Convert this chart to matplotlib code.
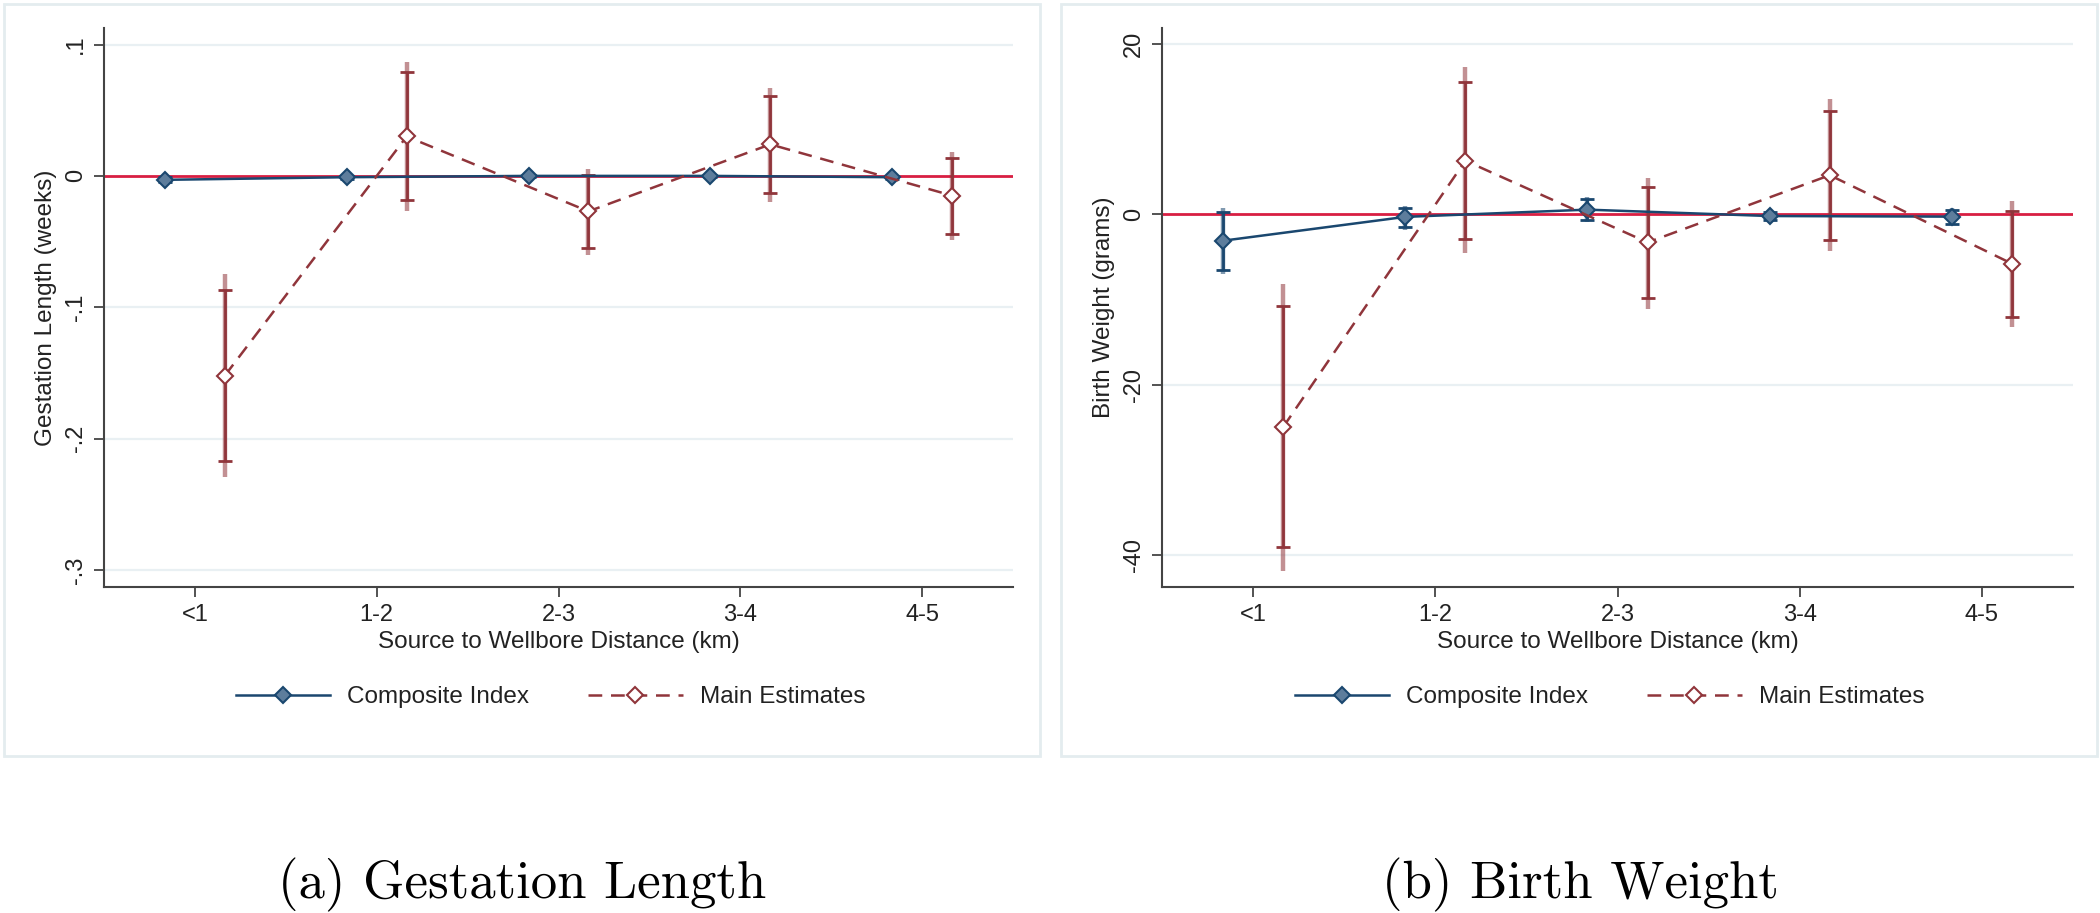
import matplotlib
matplotlib.use('Agg')
import matplotlib.pyplot as plt
from matplotlib.patches import Rectangle
import numpy as np

plt.rcParams['font.family'] = ['Liberation Sans', 'DejaVu Sans']

cats = ['<1', '1-2', '2-3', '3-4', '4-5']

# panel (a) gestation length, weeks
comp_gest = [-0.003, -0.001, 0.000, 0.000, -0.001]
comp_gest_lo90 = [-0.005, -0.002, -0.001, -0.001, -0.002]
comp_gest_hi90 = [-0.001, 0.000, 0.001, 0.001, 0.000]
comp_gest_lo95 = [-0.006, -0.003, -0.002, -0.002, -0.003]
comp_gest_hi95 = [0.000, 0.001, 0.002, 0.002, 0.001]
main_gest = [-0.152, 0.030, -0.027, 0.024, -0.015]
main_gest_lo90 = [-0.217, -0.018, -0.055, -0.013, -0.044]
main_gest_hi90 = [-0.087, 0.079, 0.001, 0.061, 0.014]
main_gest_lo95 = [-0.229, -0.027, -0.060, -0.020, -0.049]
main_gest_hi95 = [-0.075, 0.087, 0.005, 0.067, 0.018]

# panel (b) birth weight, grams
comp_bw = [-3.1, -0.3, 0.55, -0.2, -0.27]
comp_bw_lo90 = [-6.5, -1.5, -0.68, -0.7, -1.08]
comp_bw_hi90 = [0.25, 0.8, 1.8, 0.3, 0.54]
comp_bw_lo95 = [-7.0, -1.8, -0.9, -0.8, -1.2]
comp_bw_hi95 = [0.75, 1.0, 2.0, 0.4, 0.7]
main_bw = [-25.0, 6.3, -3.3, 4.6, -5.8]
main_bw_lo90 = [-39.1, -2.9, -9.8, -3.0, -12.1]
main_bw_hi90 = [-10.8, 15.6, 3.2, 12.2, 0.45]
main_bw_lo95 = [-41.9, -4.5, -11.1, -4.3, -13.2]
main_bw_hi95 = [-8.2, 17.3, 4.3, 13.5, 1.6]

BLUE = '#1a476f'
BLUE_FILL = '#5d7d9c'
RED = '#90353b'
ZERO = '#d81e42'
GRID = '#e9f0f3'
FRAME = '#e4ecef'

W, H = 2100, 913
fig = plt.figure(figsize=(W / 100, H / 100), dpi=100)

# light outer frames around each panel
for x0, x1 in [(4, 1040), (1061, 2097)]:
    fig.patches.append(Rectangle((x0 / W, 1 - 756 / H), (x1 - x0) / W, (756 - 4) / H,
                                 transform=fig.transFigure, facecolor='white',
                                 edgecolor=FRAME, linewidth=2, zorder=-5))


def errbars(ax, x, lo95, hi95, lo90, hi90, color):
    ax.vlines(x, lo95, hi95, color=color, alpha=0.55, linewidth=3.2, zorder=3)
    ax.vlines(x, lo90, hi90, color=color, linewidth=2.0, zorder=4)
    ax.plot(x, lo90, linestyle='none', marker='_', markersize=10, markeredgewidth=2,
            color=color, zorder=4)
    ax.plot(x, hi90, linestyle='none', marker='_', markersize=10, markeredgewidth=2,
            color=color, zorder=4)


def panel(rect, comp, c_lo90, c_hi90, c_lo95, c_hi95,
          main, m_lo90, m_hi90, m_lo95, m_hi95,
          ylim, yticks, yticklabels, ylabel, caption, cap_x):
    ax = fig.add_axes(rect)
    ax.set_facecolor('none')
    pos = np.arange(1, len(cats) + 1)
    xb = pos - 0.165
    xr = pos + 0.165

    for t in yticks:
        if t != 0:
            ax.axhline(t, color=GRID, linewidth=1.6, zorder=1)
    ax.axhline(0, color=ZERO, linewidth=2.0, zorder=2)

    errbars(ax, xb, c_lo95, c_hi95, c_lo90, c_hi90, BLUE)
    errbars(ax, xr, m_lo95, m_hi95, m_lo90, m_hi90, RED)

    ax.plot(xb, comp, color=BLUE, linewidth=1.8, marker='D', markersize=8.5,
            markerfacecolor=BLUE_FILL, markeredgecolor=BLUE, markeredgewidth=1.5,
            label='Composite Index', zorder=5)
    ax.plot(xr, main, color=RED, linewidth=1.8, linestyle=(0, (5.5, 3.5)), marker='D',
            markersize=8.5, markerfacecolor='white', markeredgecolor=RED,
            markeredgewidth=1.5, label='Main Estimates', zorder=5)

    ax.set_xlim(0.5, 5.5)
    ax.set_ylim(*ylim)
    ax.set_xticks(pos)
    ax.set_xticklabels(cats)
    ax.set_yticks(yticks)
    ax.set_yticklabels(yticklabels, rotation=90, va='center')
    ax.tick_params(axis='both', direction='out', length=7, width=1.3, color='#444444',
                   labelsize=17, labelcolor='#222222', pad=5)
    for s in ['top', 'right']:
        ax.spines[s].set_visible(False)
    for s in ['left', 'bottom']:
        ax.spines[s].set_color('#444444')
        ax.spines[s].set_linewidth(1.5)
    ax.set_xlabel('Source to Wellbore Distance (km)', fontsize=17.5, color='#222222',
                  labelpad=4)
    ax.set_ylabel(ylabel, fontsize=17.5, color='#222222', labelpad=6)

    leg = ax.legend(loc='center', bbox_to_anchor=(0.491, (1 - 697 / H - rect[1]) / rect[3]),
                    ncol=2, frameon=False, fontsize=17.5, handlelength=3.9,
                    handletextpad=0.7, columnspacing=2.4)
    for t in leg.get_texts():
        t.set_color('#222222')

    fig.text(cap_x / W, 1 - 885 / H, caption, fontsize=38, family='cmr10',
             ha='center', va='center')
    return ax


bottom = 1 - 587 / H
height = (587 - 28) / H

panel([104 / W, bottom, (1013 - 104) / W, height],
      comp_gest, comp_gest_lo90, comp_gest_hi90, comp_gest_lo95, comp_gest_hi95,
      main_gest, main_gest_lo90, main_gest_hi90, main_gest_lo95, main_gest_hi95,
      (-0.313, 0.1126), [0.1, 0, -0.1, -0.2, -0.3], ['.1', '0', '-.1', '-.2', '-.3'],
      'Gestation Length (weeks)', '(a) Gestation Length', 522)

panel([1162 / W, bottom, (2073 - 1162) / W, height],
      comp_bw, comp_bw_lo90, comp_bw_hi90, comp_bw_lo95, comp_bw_hi95,
      main_bw, main_bw_lo90, main_bw_hi90, main_bw_lo95, main_bw_hi95,
      (-43.8, 21.9), [20, 0, -20, -40], ['20', '0', '-20', '-40'],
      'Birth Weight (grams)', '(b) Birth Weight', 1580)

fig.savefig('out.png', dpi=100, facecolor='white')
